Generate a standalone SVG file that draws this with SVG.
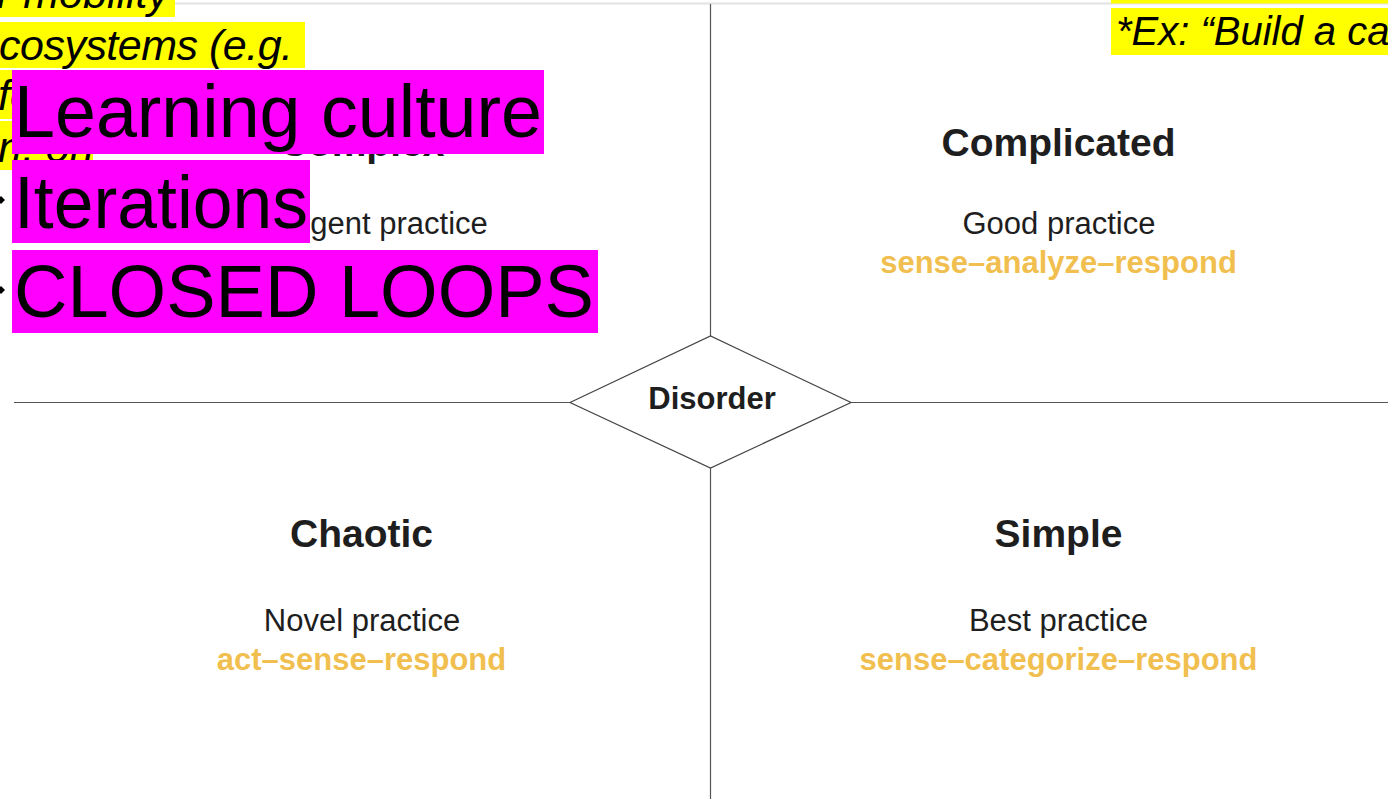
<svg xmlns="http://www.w3.org/2000/svg" width="1388" height="799" viewBox="0 0 1388 799">
<style>
.ln{stroke:#555;stroke-width:1.2;fill:none}
.hd{font-family:"Liberation Sans",Arial,sans-serif;font-weight:bold;font-size:39px;fill:#1e1e1e;text-anchor:middle}
.pr{font-family:"Liberation Sans",Arial,sans-serif;font-size:31px;fill:#1e1e1e;text-anchor:middle}
.ac{font-family:"Liberation Sans",Arial,sans-serif;font-weight:bold;font-size:31px;fill:#f1bf4f;text-anchor:middle}
.yb{fill:#ffff00}
.yt{font-family:"Liberation Sans",Arial,sans-serif;font-style:italic;font-size:43px;fill:#000}
.mb{fill:#ff00ff}
.mt{font-family:"Liberation Sans",Arial,sans-serif;font-size:75px;fill:#000}
</style>
<rect width="1388" height="799" fill="#ffffff"/>
<line x1="0" y1="3.5" x2="1388" y2="3.5" stroke="#e2e2e2" stroke-width="2"/>
<g id="connectors">
<line class="ln" x1="710.5" y1="4" x2="710.5" y2="336"/>
<line class="ln" x1="710.5" y1="468" x2="710.5" y2="799"/>
<line class="ln" x1="14" y1="402.5" x2="570" y2="402.5"/>
<line class="ln" x1="851" y1="402.5" x2="1388" y2="402.5"/>
</g>
<g id="complex">
<text class="hd" x="362" y="156">Complex</text>
<text class="pr" x="362" y="234">Emergent practice</text>
</g>
<g id="complicated">
<text class="hd" x="1058.5" y="156">Complicated</text>
<text class="pr" x="1059" y="234">Good practice</text>
<text class="ac" x="1058.5" y="273">sense–analyze–respond</text>
</g>
<g id="chaotic">
<text class="hd" x="361.5" y="547">Chaotic</text>
<text class="pr" x="362" y="631">Novel practice</text>
<text class="ac" x="361.5" y="670">act–sense–respond</text>
</g>
<g id="simple">
<text class="hd" x="1058.5" y="547">Simple</text>
<text class="pr" x="1058.5" y="631">Best practice</text>
<text class="ac" x="1058.5" y="670">sense–categorize–respond</text>
</g>
<g id="disorder">
<polygon points="570,402.5 710.5,336 851,402.5 710.5,468" fill="#ffffff" stroke="#444" stroke-width="1.2"/>
<text x="712" y="409" font-family="'Liberation Sans',Arial,sans-serif" font-weight="bold" font-size="31" fill="#1e1e1e" text-anchor="middle">Disorder</text>
</g>
<g id="yellow-notes-left">
<rect class="yb" x="0" y="-30" width="175" height="47"/>
<text class="yt" x="-3" y="8">r mobility</text>
<rect class="yb" x="0" y="22" width="305" height="46"/>
<text class="yt" x="-1" y="60" textLength="294">cosystems (e.g.</text>
<rect class="yb" x="0" y="70" width="40" height="49"/>
<text class="yt" x="-2" y="110">fo</text>
<rect class="yb" x="0" y="121" width="93" height="49"/>
<text class="yt" x="-2" y="162">n, on</text>
</g>
<g id="yellow-note-right">
<rect class="yb" x="1111" y="-30" width="277" height="33.5"/>
<rect class="yb" x="1111" y="8" width="277" height="47"/>
<text x="1116" y="45" font-family="'Liberation Sans',Arial,sans-serif" font-style="italic" font-size="40" fill="#000">*Ex: “Build a ca</text>
</g>
<g id="bullets">
<polygon points="1,196 5,200 1,204 -3,200" fill="#000"/>
<polygon points="1,286 5,290 1,294 -3,290" fill="#000"/>
</g>
<g id="learning-culture">
<rect class="mb" x="12" y="70" width="532" height="84"/>
<text class="mt" x="14" y="137" textLength="528" lengthAdjust="spacingAndGlyphs">Learning culture</text>
</g>
<g id="iterations">
<rect class="mb" x="12" y="160" width="298" height="83"/>
<text class="mt" x="14" y="228" textLength="294" lengthAdjust="spacingAndGlyphs">Iterations</text>
</g>
<g id="closed-loops">
<rect class="mb" x="12" y="250" width="586" height="83"/>
<text class="mt" x="14" y="317" textLength="580" lengthAdjust="spacingAndGlyphs">CLOSED LOOPS</text>
</g>
</svg>
